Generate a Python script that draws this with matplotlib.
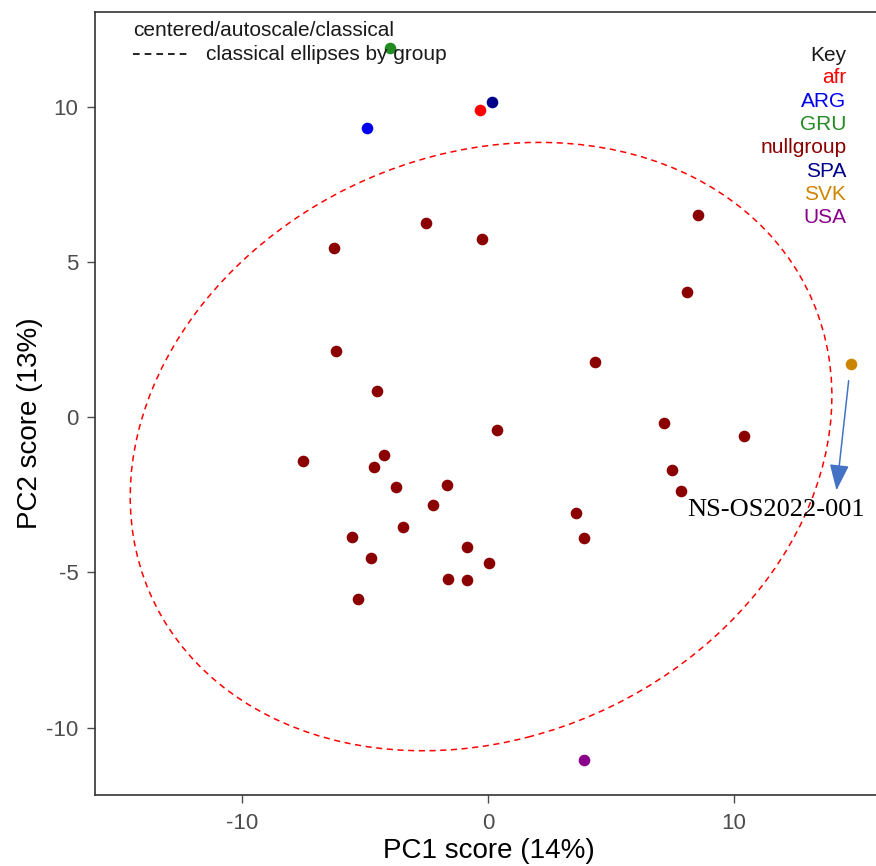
import numpy as np
import matplotlib.pyplot as plt
from matplotlib.patches import Ellipse

# --- scores by group ---
groups = ["afr", "ARG", "GRU", "nullgroup", "SPA", "SVK", "USA"]
group_colors = ["#FF0000", "#0000EE", "#228B22", "#8B0000", "#00008B", "#CD8500", "#8B008B"]

afr_x, afr_y = [-0.33], [9.89]
arg_x, arg_y = [-4.93], [9.31]
gru_x, gru_y = [-3.99], [11.88]
spa_x, spa_y = [0.16], [10.14]
svk_x, svk_y = [14.79], [1.71]
usa_x, usa_y = [3.91], [-11.05]

null_x = [8.55, -2.53, -0.24, -6.27, 8.11, -6.19, 4.36, -4.52, 0.37, 7.17,
          10.43, -7.54, -4.24, -4.64, 7.49, 7.86, -3.75, -1.67, -2.24, -3.46,
          3.58, 3.91, -5.54, -4.77, -0.86, -1.63, -0.86, 0.04, -5.30]
null_y = [6.51, 6.25, 5.73, 5.44, 4.03, 2.13, 1.77, 0.84, -0.42, -0.19,
          -0.61, -1.42, -1.22, -1.61, -1.71, -2.38, -2.25, -2.19, -2.83, -3.54,
          -3.09, -3.90, -3.86, -4.54, -4.19, -5.22, -5.25, -4.70, -5.86]

# classical ellipse for nullgroup (center, full width/height, angle in deg)
ell_center = (-0.28, -0.95)
ell_width = 28.9
ell_height = 19.1
ell_angle = 11.6

xs = [afr_x, arg_x, gru_x, null_x, spa_x, svk_x, usa_x]
ys = [afr_y, arg_y, gru_y, null_y, spa_y, svk_y, usa_y]

plt.rcParams['font.family'] = ['Liberation Sans', 'DejaVu Sans']
plt.rcParams['axes.unicode_minus'] = False

fig = plt.figure(figsize=(8.76, 8.66), dpi=100)
ax = fig.add_axes([0.1084, 0.082, 0.90, 0.904])

ax.add_patch(Ellipse(ell_center, ell_width, ell_height, angle=ell_angle,
                     fill=False, edgecolor='#FF0000', lw=1.1, ls=(0, (4, 3))))

for gx, gy, col in zip(xs, ys, group_colors):
    ax.scatter(gx, gy, s=70, color=col, zorder=3, linewidths=0)

ax.set_xlim(-16.0, 16.1)
ax.set_ylim(-12.17, 13.04)
ax.set_xticks([-10, 0, 10])
ax.set_yticks([-10, -5, 0, 5, 10])
ax.tick_params(labelsize=16, colors='#4D4D4D', length=6, width=1, pad=6)
ax.tick_params(axis='x', pad=7)
for s in ['left', 'bottom', 'top']:
    ax.spines[s].set_color('#333333')
    ax.spines[s].set_linewidth(1.2)
ax.spines['right'].set_visible(False)

ax.set_xlabel('PC1 score (14%)', fontsize=20, color='black', labelpad=3)
ax.set_ylabel('PC2 score (13%)', fontsize=20, color='black')
ax.yaxis.set_label_coords(-0.066, 0.475)

# top-left legend
ax.text(0.048, 0.977, 'centered/autoscale/classical', transform=ax.transAxes,
        fontsize=15, color='#1A1A1A', va='center', ha='left')
ax.plot([0.048, 0.12], [0.946, 0.946], transform=ax.transAxes,
        color='black', lw=1.2, ls=(0, (4, 3)))
ax.text(0.141, 0.946, 'classical ellipses by group', transform=ax.transAxes,
        fontsize=15, color='#1A1A1A', va='center', ha='left')

# key
key_x = 0.953
ax.text(key_x, 0.945, 'Key', transform=ax.transAxes, fontsize=15,
        color='#1A1A1A', ha='right', va='center')
for i, (g, col) in enumerate(zip(groups, group_colors)):
    ax.text(key_x, 0.916 - i * 0.0298, g, transform=ax.transAxes, fontsize=15,
            color=col, ha='right', va='center')

# annotation
ax.annotate('', xy=(14.18, -2.45), xytext=(14.70, 1.26),
            arrowprops=dict(arrowstyle='-|>,head_length=0.8,head_width=0.3',
                            color='#4472C4', lw=1.1, mutation_scale=20))
ax.text(11.73, -3.0, 'NS-OS2022-001', fontsize=19, family='Liberation Serif',
        color='black', ha='center', va='center')

fig.savefig('out.png', dpi=100)
